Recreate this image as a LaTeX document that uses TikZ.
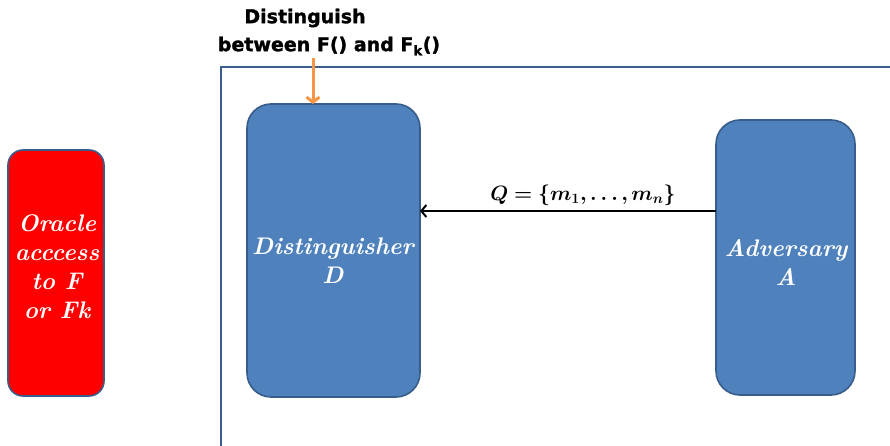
\documentclass[tikz,border=0pt]{standalone}
\usepackage{fontspec}
\usepackage{amsmath,bm}
\newfontfamily\headfont[BoldFeatures={FakeBold=1.5}]{DejaVu Sans}
\usetikzlibrary{arrows.meta}
\definecolor{boxblue}{HTML}{4F81BD}
\definecolor{boxedge}{HTML}{385D8A}
\definecolor{frameblue}{HTML}{3B5C8C}
\definecolor{orangearr}{HTML}{F79646}
\tikzset{
  bluebox/.style={draw=boxedge, line width=1.6pt, fill=boxblue, rounded corners=24pt},
  redbox/.style={draw=boxedge, line width=1.6pt, fill=red, rounded corners=15pt},
  boxtext/.style={text=white, font=\fontsize{24}{29}\selectfont\bfseries\itshape, align=center},
  headtext/.style={font=\headfont\fontsize{19}{22}\selectfont\bfseries, text=black}
}
\begin{document}
\begin{tikzpicture}[x=1pt,y=-1pt]
\useasboundingbox (0,0) rectangle (890,446);
\clip (0,0) rectangle (890,446);
\draw[frameblue, line width=1.6pt] (221,67) rectangle (910,470);
\draw[redbox] (8,150) rectangle (104,396);
\draw[bluebox] (247,104) rectangle (420,397);
\draw[bluebox] (716,120) rectangle (855,395);
\coordinate (dtop) at (313,104);
\coordinate (oin) at (313,58);
\coordinate (din) at (420,211);
\coordinate (aout) at (716,211);
\node[boxtext] (oracle) at (57,267) {Oracle\\acccess\\to F\\ or Fk};
\node[boxtext] (dist) at (333,261) {Distinguisher\\D};
\node[boxtext] (adv) at (786,262) {Adversary\\A};
\draw[line width=2pt, -{Straight Barb[length=5pt,width=12pt,line width=2pt]}] (aout) -- (din);
\node[font=\fontsize{21}{22}\selectfont] (q) at (583,195) {$\bm{Q=\{m_1,\ldots,m_n\}}$};
\draw[orangearr, line width=3pt, -{Straight Barb[length=5pt,width=13pt]}] (oin) -- (dtop);
\node[headtext] (h1) at (305,18) {Distinguish};
\node[headtext] (h2) at (329,46) {between F() and F\textsubscript{k}()};
\end{tikzpicture}
\end{document}
